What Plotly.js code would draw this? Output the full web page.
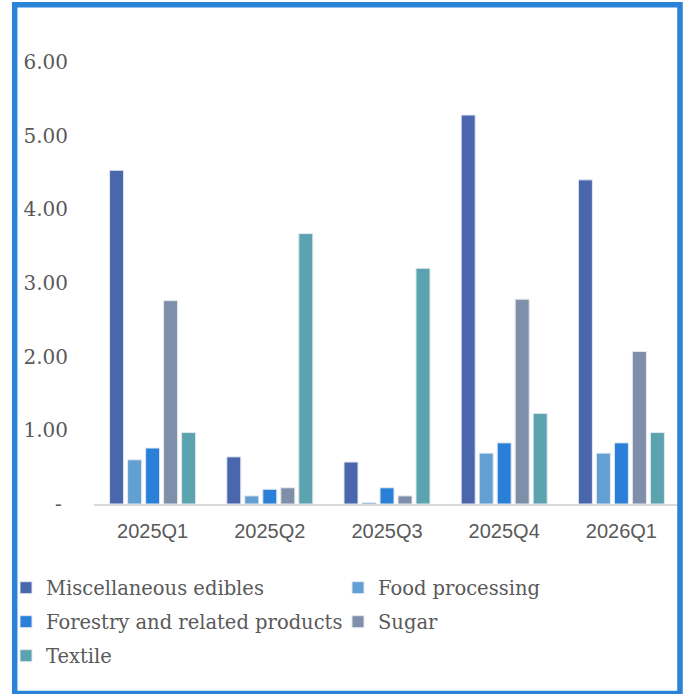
<!DOCTYPE html>
<html>
<head>
<meta charset="utf-8">
<script src="https://cdn.plot.ly/plotly-3.0.1.min.js"></script>
<style>html,body{margin:0;padding:0;background:#fff;}#chart{width:683px;height:694px;}</style>
</head>
<body>
<div id="chart"></div>
<script>
const categories = ["2025Q1", "2025Q2", "2025Q3", "2025Q4", "2026Q1"];
const miscEdibles = [4.53, 0.64, 0.57, 5.28, 4.40];
const foodProcessing = [0.60, 0.11, 0.02, 0.69, 0.69];
const forestry = [0.76, 0.20, 0.22, 0.83, 0.83];
const sugar = [2.76, 0.22, 0.11, 2.78, 2.07];
const textile = [0.97, 3.67, 3.20, 1.23, 0.97];
const seriesNames = ["Miscellaneous edibles", "Food processing", "Forestry and related products", "Sugar", "Textile"];
const yTickVals = [0, 1, 2, 3, 4, 5, 6];
const yTickText = ["-\u00a0", "1.00", "2.00", "3.00", "4.00", "5.00", "6.00"];

const colors = ["#4A67AE", "#629FD3", "#2A80D9", "#7F8FA9", "#5BA3AE"];
const seriesValues = [miscEdibles, foodProcessing, forestry, sugar, textile];
const legendIds = ["legend", "legend2", "legend3", "legend4", "legend5"];

const W = 683, H = 694;
const M = {l: 94, r: 3, t: 62, b: 190};
const pw = W - M.l - M.r, ph = H - M.t - M.b;
const px = x => (x - M.l) / pw;
const py = y => (H - M.b - y) / ph;

const traces = seriesValues.map((vals, i) => ({
  type: "bar",
  name: seriesNames[i],
  x: categories,
  y: vals,
  legend: legendIds[i],
  marker: {color: colors[i], line: {color: "#e3e8f0", width: 1}},
  hoverinfo: "skip"
}));

const legendFont = {family: "DejaVu Serif", size: 19.5, color: "#595959"};
// legend positions (container px): [left, centerY]
const legPos = [[14, 588], [346, 588], [14, 622], [346, 622], [14, 656]];
const layout = {
  width: W, height: H,
  margin: M,
  paper_bgcolor: "#ffffff",
  plot_bgcolor: "#ffffff",
  barmode: "group",
  bargap: 0.232,
  bargroupgap: 0.222,
  showlegend: true,
  xaxis: {
    type: "category",
    showgrid: false,
    showline: true,
    linecolor: "#d9d9d9",
    linewidth: 2,
    ticks: "outside",
    ticklen: 8,
    tickcolor: "rgba(0,0,0,0)",
    tickfont: {family: "Liberation Sans, Arial, sans-serif", size: 20, color: "#595959"},
    fixedrange: true
  },
  yaxis: {
    range: [0, 6],
    tickvals: yTickVals,
    ticktext: yTickText,
    showgrid: false,
    zeroline: false,
    showline: false,
    ticks: "outside",
    ticklen: 21,
    tickcolor: "rgba(0,0,0,0)",
    tickfont: {family: "DejaVu Serif", size: 20, color: "#595959"},
    fixedrange: true
  },
  shapes: [{
    type: "rect", xref: "paper", yref: "paper",
    x0: px(14.7), x1: px(680), y0: py(693.5), y1: py(4.7),
    line: {color: "#2B83D8", width: 5.5},
    fillcolor: "rgba(0,0,0,0)", layer: "above"
  }]
};
legendIds.forEach((id, i) => {
  layout[id] = {
    xref: "container", yref: "container",
    x: legPos[i][0] / W, y: 1 - legPos[i][1] / H,
    xanchor: "left", yanchor: "middle",
    orientation: "h",
    bgcolor: "rgba(0,0,0,0)",
    borderwidth: 0,
    indentation: -8,
    font: legendFont,
    itemclick: false, itemdoubleclick: false
  };
});

Plotly.newPlot("chart", traces, layout, {displayModeBar: false, staticPlot: true});
</script>
</body>
</html>
